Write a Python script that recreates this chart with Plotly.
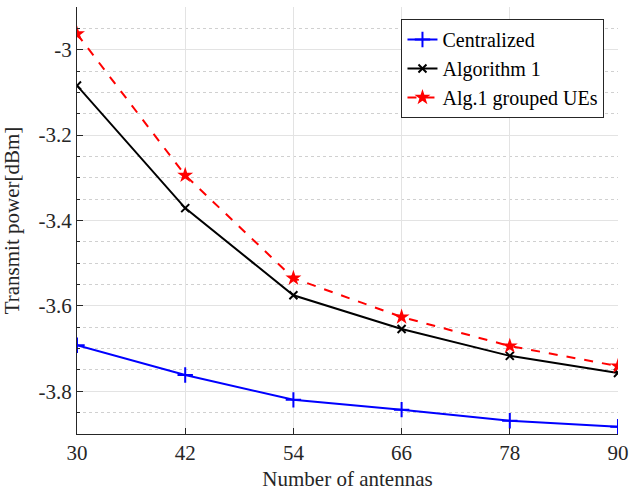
import plotly.graph_objects as go

antennas = [30, 42, 54, 66, 78, 90]
centralized = [-3.692, -3.762, -3.820, -3.843, -3.869, -3.883]
algorithm1 = [-3.084, -3.371, -3.575, -3.654, -3.717, -3.757]
grouped = [-2.963, -3.294, -3.535, -3.626, -3.694, -3.741]

font = "Liberation Serif"
fig = go.Figure()
fig.add_trace(go.Scatter(x=antennas, y=centralized, name="Centralized", mode="lines+markers",
                         line=dict(color="#0000ff", width=2),
                         marker=dict(symbol="cross-thin", size=11, line=dict(color="#0000ff", width=2))))
fig.add_trace(go.Scatter(x=antennas, y=algorithm1, name="Algorithm 1", mode="lines+markers",
                         line=dict(color="black", width=2),
                         marker=dict(symbol="x-thin", size=8, line=dict(color="black", width=2))))
fig.add_trace(go.Scatter(x=antennas, y=grouped, name="Alg.1 grouped UEs", mode="lines+markers",
                         line=dict(color="#ff0000", width=2, dash="dash"),
                         marker=dict(symbol="star", size=12, color="#ff0000")))

fig.update_layout(
    width=629, height=491,
    margin=dict(l=77, r=11, t=7, b=57),
    plot_bgcolor="white", paper_bgcolor="white",
    font=dict(family=font, size=21, color="#262626"),
    legend=dict(x=0.975, y=0.972, xanchor="right", yanchor="top",
                bgcolor="white", bordercolor="#262626", borderwidth=1,
                font=dict(family=font, size=20, color="black"),
                tracegroupgap=0, itemwidth=30),
    showlegend=True,
)
fig.update_xaxes(
    range=[30, 90], tickvals=antennas, ticktext=[str(a) for a in antennas],
    title=dict(text="Number of antennas", font=dict(size=21)),
    automargin=False,
    showline=True, linecolor="#262626", linewidth=1,
    ticks="inside", ticklen=6, tickcolor="#262626",
    showgrid=True, gridcolor="#e3e3e3", gridwidth=1, zeroline=False,
)
fig.update_yaxes(
    range=[-3.9, -2.9], tickvals=[-3.8, -3.6, -3.4, -3.2, -3.0],
    ticktext=["-3.8", "-3.6", "-3.4", "-3.2", "-3"],
    title=dict(text="Transmit power[dBm]", font=dict(size=21)),
    automargin=False,
    showline=True, linecolor="#262626", linewidth=1,
    ticks="inside", ticklen=6, tickcolor="#262626",
    showgrid=True, gridcolor="#e3e3e3", gridwidth=1, zeroline=False,
    minor=dict(dtick=0.05, tick0=-3.9, showgrid=True, gridcolor="#d0d0d0", griddash="dot",
               ticks="inside", ticklen=3, tickcolor="#262626"),
)
fig.write_html("out.html", config={"displayModeBar": False},
               post_script="document.body.style.margin='0px';document.body.style.overflow='hidden';")
